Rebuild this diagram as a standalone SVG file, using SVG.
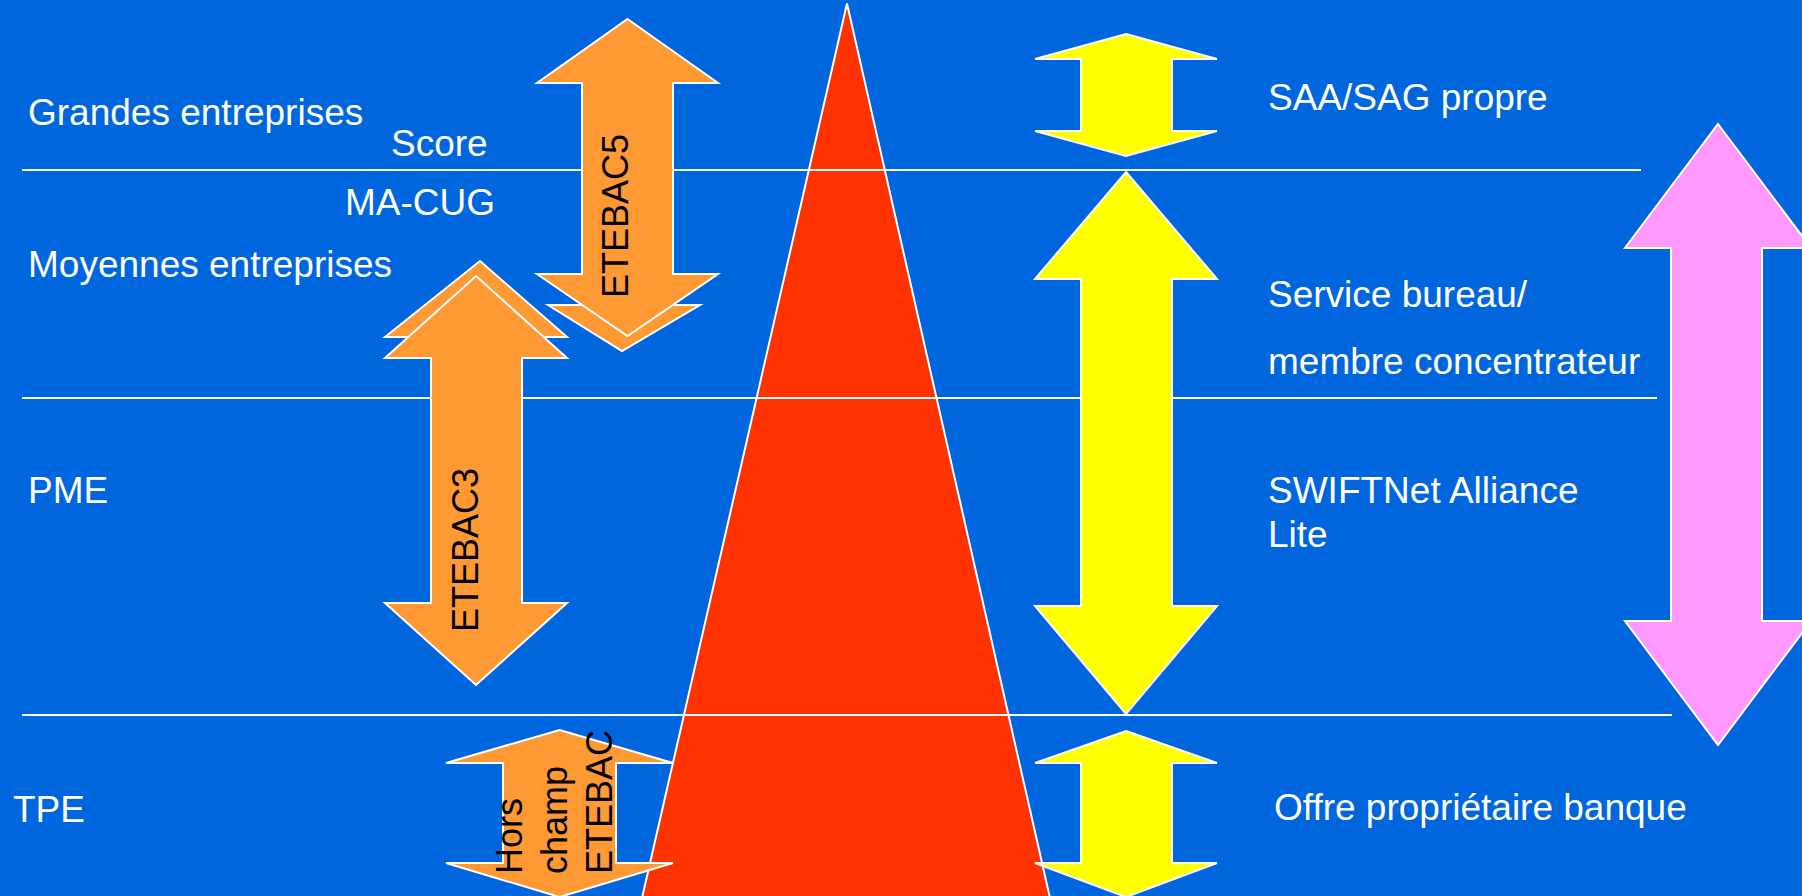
<svg xmlns="http://www.w3.org/2000/svg" width="1802" height="896" viewBox="0 0 1802 896">
  <style>
    .lbl { font-family: "Liberation Sans", Arial, sans-serif; font-size: 37px; fill: #ffffff; }
    .arr-txt { font-family: "Liberation Sans", Arial, sans-serif; font-size: 36px; fill: #000000; }
    .sep { stroke: #ffffff; stroke-width: 2; fill: none; }
    .shape { stroke: #ffffff; stroke-width: 2; stroke-linejoin: miter; }
    .orange { fill: #FF9933; }
    .yellow { fill: #FFFF00; }
    .pink { fill: #FF99FF; }
    .red { fill: #FF3300; }
  </style>
  <rect x="0" y="0" width="1802" height="896" fill="#0066DD"/>

  <g id="pyramid">
    <polygon class="shape red" points="847,3.5 1050,898 642,898"/>
  </g>

  <g id="separators">
    <line class="sep" x1="22" y1="170" x2="1641" y2="170"/>
    <line class="sep" x1="22" y1="398" x2="1657" y2="398"/>
    <line class="sep" x1="22" y1="715" x2="1672" y2="715"/>
  </g>

  <g id="labels-left">
    <text class="lbl" x="28" y="125">Grandes entreprises</text>
    <text class="lbl" x="391" y="156">Score</text>
    <text class="lbl" x="345" y="215">MA-CUG</text>
    <text class="lbl" x="28" y="277">Moyennes entreprises</text>
    <text class="lbl" x="28" y="503">PME</text>
    <text class="lbl" x="13" y="822">TPE</text>
  </g>

  <g id="etebac5">
    <polygon class="shape orange" points="548,305 700,305 622,351"/>
    <polygon class="shape orange" points="627.5,19 718,83 673,83 673,274 718,274 627.5,336 537,274 582,274 582,83 537,83"/>
    <text class="arr-txt" transform="translate(628,298) rotate(-90)" x="0" y="0">ETEBAC5</text>
  </g>

  <g id="etebac3">
    <polygon class="shape orange" points="480,261 567,337 385,337"/>
    <polygon class="shape orange" points="476,276 567,358 522,358 522,603 567,603 476,685 385,603 431,603 431,358 385,358"/>
    <text class="arr-txt" transform="translate(478,632) rotate(-90)" x="0" y="0">ETEBAC3</text>
  </g>

  <g id="hors-champ">
    <polygon class="shape orange" points="559.5,730 673,763 616,763 616,863 673,863 559.5,897 446,863 503,863 503,763 446,763"/>
    <text class="arr-txt" transform="translate(522,874) rotate(-90)" x="0" y="0">Hors</text>
    <text class="arr-txt" transform="translate(567,874) rotate(-90)" x="0" y="0">champ</text>
    <text class="arr-txt" transform="translate(612,874) rotate(-90)" x="0" y="0">ETEBAC</text>
  </g>

  <g id="saa-sag">
    <polygon class="shape yellow" points="1126,34 1217,59 1172,59 1172,131 1217,131 1126,156 1035,131 1081,131 1081,59 1035,59"/>
    <text class="lbl" x="1268" y="110">SAA/SAG propre</text>
  </g>

  <g id="service-bureau">
    <polygon class="shape yellow" points="1126,172 1217,279 1172,279 1172,606 1217,606 1126,714 1035,606 1081,606 1081,279 1035,279"/>
    <text class="lbl" x="1268" y="307">Service bureau/</text>
    <text class="lbl" x="1268" y="374">membre concentrateur</text>
    <text class="lbl" x="1268" y="503">SWIFTNet Alliance</text>
    <text class="lbl" x="1268" y="547">Lite</text>
  </g>

  <g id="offre-banque">
    <polygon class="shape yellow" points="1126,731 1217,763 1172,763 1172,863 1217,863 1126,897 1035,863 1081,863 1081,763 1035,763"/>
    <text class="lbl" x="1274" y="820">Offre propriétaire banque</text>
  </g>

  <g id="pink-range">
    <polygon class="shape pink" points="1718,124 1811,248 1762,248 1762,621 1811,621 1718,745 1625,621 1671,621 1671,248 1625,248"/>
  </g>
</svg>
